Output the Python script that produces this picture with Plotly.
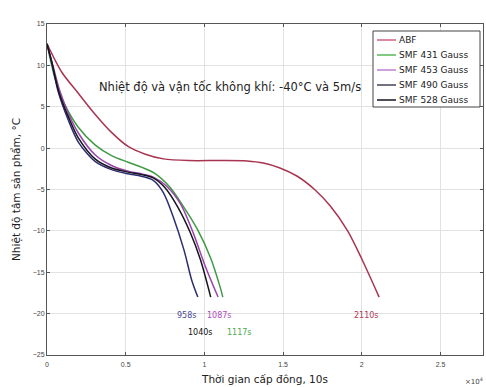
import plotly.graph_objects as go

# ---- data (time in x10^3 s, temperature in °C) ----
series_names = ["ABF", "SMF 431 Gauss", "SMF 453 Gauss", "SMF 490 Gauss", "SMF 528 Gauss"]

abf_x = [0, 0.093, 0.2, 0.305, 0.41, 0.515, 0.62, 0.74, 0.9, 1.1, 1.27, 1.375, 1.48, 1.59, 1.70, 1.80, 1.91, 2.0, 2.11]
abf_y = [12.6, 9.2, 6.6, 4.1, 1.9, 0.2, -0.7, -1.3, -1.5, -1.5, -1.55, -1.8, -2.4, -3.4, -5.0, -7.0, -10.0, -13.4, -18.0]

s431_x = [0, 0.051, 0.115, 0.2, 0.305, 0.41, 0.515, 0.6, 0.68, 0.78, 0.865, 0.955, 1.04, 1.10, 1.117]
s431_y = [12.6, 8.4, 5.2, 2.5, 0.4, -0.9, -1.7, -2.3, -3.0, -4.7, -7.0, -9.8, -13.3, -16.8, -18.0]

s453_x = [0, 0.04, 0.08, 0.14, 0.2, 0.305, 0.41, 0.515, 0.6, 0.675, 0.76, 0.85, 0.93, 1.006, 1.087]
s453_y = [12.6, 9.8, 7.0, 4.0, 1.8, -0.8, -2.1, -2.8, -3.1, -3.5, -4.6, -6.8, -10.3, -14.3, -18.0]

s490_x = [0, 0.03, 0.07, 0.135, 0.2, 0.305, 0.41, 0.515, 0.6, 0.675, 0.74, 0.80, 0.87, 0.92, 0.958]
s490_y = [12.6, 10.4, 6.9, 3.4, 0.7, -1.6, -2.6, -3.1, -3.4, -3.9, -5.4, -8.2, -12.3, -16.0, -18.0]

s528_x = [0, 0.035, 0.075, 0.14, 0.2, 0.305, 0.41, 0.515, 0.6, 0.675, 0.75, 0.83, 0.91, 0.975, 1.04]
s528_y = [12.6, 10.0, 6.8, 3.6, 1.2, -1.3, -2.4, -2.9, -3.2, -3.6, -4.8, -7.1, -10.2, -13.5, -18.0]

end_labels = ["2110s", "1117s", "1087s", "958s", "1040s"]
label_x = [2.03, 1.22, 1.096, 0.885, 0.975]
label_y = [-20.2, -22.3, -20.2, -20.2, -22.3]

x_ticks = [0, 0.5, 1, 1.5, 2, 2.5]
x_tick_text = ["0", "0.5", "1", "1.5", "2", "2.5"]
y_ticks = [15, 10, 5, 0, -5, -10, -15, -20, -25]

colors = ["#a83450", "#3f9a45", "#9a44aa", "#2e2e6e", "#15151f"]
legend_colors = ["#d06080", "#58b858", "#c080d0", "#444455", "#15151f"]
label_colors = ["#b03a55", "#4caa4c", "#b04ac0", "#4a4a9a", "#111111"]

xs = [abf_x, s431_x, s453_x, s490_x, s528_x]
ys = [abf_y, s431_y, s453_y, s490_y, s528_y]

FONT = "DejaVu Sans"

fig = go.Figure()
for name, x, y, c in zip(series_names, xs, ys, colors):
    fig.add_trace(go.Scatter(x=x, y=y, mode="lines", name=name, showlegend=False,
                             line=dict(color=c, width=1.5, shape="spline", smoothing=0.8)))

for t, lx, ly, c in zip(end_labels, label_x, label_y, label_colors):
    fig.add_annotation(x=lx, y=ly, text=t, showarrow=False,
                       font=dict(size=8, color=c, family=FONT))

fig.add_annotation(x=0.32, y=7.35, xanchor="left", text="Nhiệt độ và vận tốc không khí: -40°C và 5m/s",
                   showarrow=False, font=dict(size=11.5, color="#222222", family=FONT))

fig.add_annotation(xref="paper", yref="paper", x=1.005, y=-0.078, xanchor="right", yanchor="middle",
                   text="×10<sup>4</sup>", showarrow=False,
                   font=dict(size=7, color="#444444", family=FONT))

# ---- legend box (drawn in paper coordinates) ----
L, R, T, B = 47, 483, 24, 355
def px(xp):
    return (xp - L) / (R - L)
def py(yp):
    return (B - yp) / (B - T)

fig.add_shape(type="rect", xref="paper", yref="paper",
              x0=px(373), x1=px(480), y0=py(107), y1=py(31),
              line=dict(color="#444444", width=1), fillcolor="white", layer="above")
for i, (name, c) in enumerate(zip(series_names, legend_colors)):
    yy = 40 + 15 * i
    fig.add_shape(type="line", xref="paper", yref="paper",
                  x0=px(377), x1=px(396), y0=py(yy), y1=py(yy),
                  line=dict(color=c, width=1.5), layer="above")
    fig.add_annotation(xref="paper", yref="paper", x=px(397), y=py(yy), xanchor="left",
                       yanchor="middle", text=name, showarrow=False,
                       font=dict(size=9, color="#222222", family=FONT))

fig.update_layout(
    width=486, height=387,
    margin=dict(l=L, r=486 - R, t=T, b=387 - B),
    paper_bgcolor="white", plot_bgcolor="white",
    font=dict(family=FONT, color="#333333"),
    showlegend=False,
)

fig.update_xaxes(range=[0, 2.77], tickvals=x_ticks, ticktext=x_tick_text,
                 showgrid=True, gridcolor="#e2e2e2", gridwidth=1, zeroline=False,
                 showline=True, linecolor="#555555", linewidth=1, mirror="ticks",
                 ticks="inside", ticklen=3, tickcolor="#555555",
                 tickfont=dict(size=7, color="#444444", family="Liberation Sans"),
                 ticklabelstandoff=3,
                 title=dict(text="Thời gian cấp đông, 10s", font=dict(size=10.5, color="#222222"), standoff=8))
fig.update_yaxes(range=[-25, 15], tickvals=y_ticks,
                 showgrid=True, gridcolor="#e2e2e2", gridwidth=1, zeroline=False,
                 showline=True, linecolor="#555555", linewidth=1, mirror="ticks",
                 ticks="inside", ticklen=3, tickcolor="#555555",
                 tickfont=dict(size=7, color="#444444", family="Liberation Sans"),
                 title=dict(text="Nhiệt độ tâm sản phẩm, °C", font=dict(size=10.5, color="#222222"), standoff=10))

fig.write_html("out.html", config={"displayModeBar": False},
               post_script="document.body.style.margin='0px';")
